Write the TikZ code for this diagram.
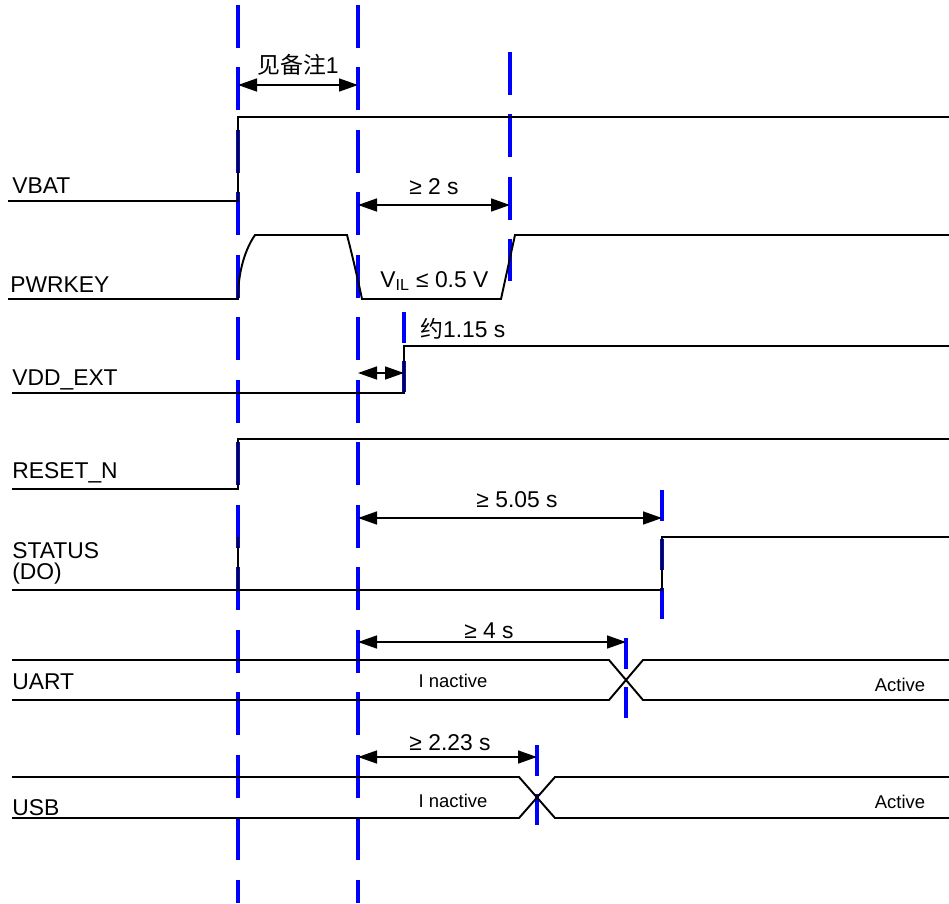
\documentclass[tikz,border=0pt]{standalone}
\usepackage{fontspec}
\setmainfont{Liberation Sans}
\newfontfamily\cjk{Noto Sans CJK SC}
\usetikzlibrary{arrows.meta}
\definecolor{tblue}{HTML}{0000FF}

\begin{document}
\begin{tikzpicture}[
  x=0.02cm, y=-0.02cm,
  font=\fontsize{13}{15}\selectfont,
  sig/.style={black, line width=1.1pt},
  tline/.style={tblue, line width=1.8pt, dash pattern=on 0.86cm off 0.39cm},
  tmark/.style={tblue, line width=1.8pt, dash pattern=on 0.62cm off 0.36cm},
  dim/.style={{Triangle[length=0.38cm,width=0.26cm]}-{Triangle[length=0.38cm,width=0.26cm]}, line width=0.85pt},
  lbl/.style={anchor=base west, inner sep=0pt},
  val/.style={anchor=base, inner sep=0pt},
  st/.style={anchor=base, inner sep=0pt, font=\fontsize{10.5}{12}\selectfont},
]
\useasboundingbox (0,0) rectangle (949,903);
\foreach \x in {238,358} \draw[tline] (\x,5) -- (\x,903);
\draw[tline] (510,52) -- (510,281);
\foreach \x/\ya/\yb in {404/312/393, 662/490/625, 626/638/720, 537/745/827}
  \draw[tmark] (\x,\ya) -- (\x,\yb);
\node[lbl] (vbat) at (12,193) {VBAT};
\node[lbl] (pwrkey) at (10,292) {PWRKEY};
\node[lbl] (vddext) at (12,385) {VDD\_EXT};
\node[lbl] (resetn) at (12,478) {RESET\_N};
\node[lbl] (status) at (12,558) {STATUS};
\node[lbl] (do) at (12,579) {(DO)};
\node[lbl] (uart) at (12,689) {UART};
\node[lbl] (usb) at (12,815) {USB};
\draw[sig] (8,201) -- (238,201) -- (238,117) -- (949,117);
\draw[sig] (8,299) -- (238,299) .. controls (238,270) and (246,248) .. (255,235) -- (347,235)
  .. controls (352,254) and (358,280) .. (362,299) -- (501,299) -- (515,235) -- (949,235);
\draw[sig] (12,393) -- (404,393) -- (404,346) -- (949,346);
\draw[sig] (12,489) -- (238,489) -- (238,439) -- (949,439);
\draw[sig] (12,590) -- (662,590) -- (662,537) -- (949,537);
\draw[sig] (238,537) -- (238,590);
\draw[sig] (12,660) -- (609,660) -- (643,700) -- (949,700);
\draw[sig] (12,700) -- (609,700) -- (643,660) -- (949,660);
\draw[sig] (12,777) -- (519,777) -- (555,818) -- (949,818);
\draw[sig] (12,818) -- (519,818) -- (555,777) -- (949,777);
\foreach \n/\xa/\xb/\y in {note/238/358/85, pk/358/510/205, vdd/358/404/373,
    stat/358/662/518, ua/358/626/642, us/358/537/757} {
  \coordinate (\n a) at (\xa,\y);
  \coordinate (\n b) at (\xb,\y);
  \draw[dim] (\n a) -- (\n b);
}
\node[val] (tnote) at (298,73) {{\cjk 见备注}1};
\node[val] (tpk) at (434,194) {≥ 2 s};
\node[lbl] (vil) at (380,287) {V\textsubscript{IL} ≤ 0.5 V};
\node[lbl] (tvdd) at (420,337) {{\cjk 约}1.15 s};
\node[val] (tstat) at (517,507) {≥ 5.05 s};
\node[val] (tua) at (489,638) {≥ 4 s};
\node[val] (tus) at (450,750) {≥ 2.23 s};
\node[st] (uaoff) at (453,687) {I nactive};
\node[st] (uaon) at (900,691) {Active};
\node[st] (usoff) at (453,807) {I nactive};
\node[st] (uson) at (900,808) {Active};
\end{tikzpicture}
\end{document}
